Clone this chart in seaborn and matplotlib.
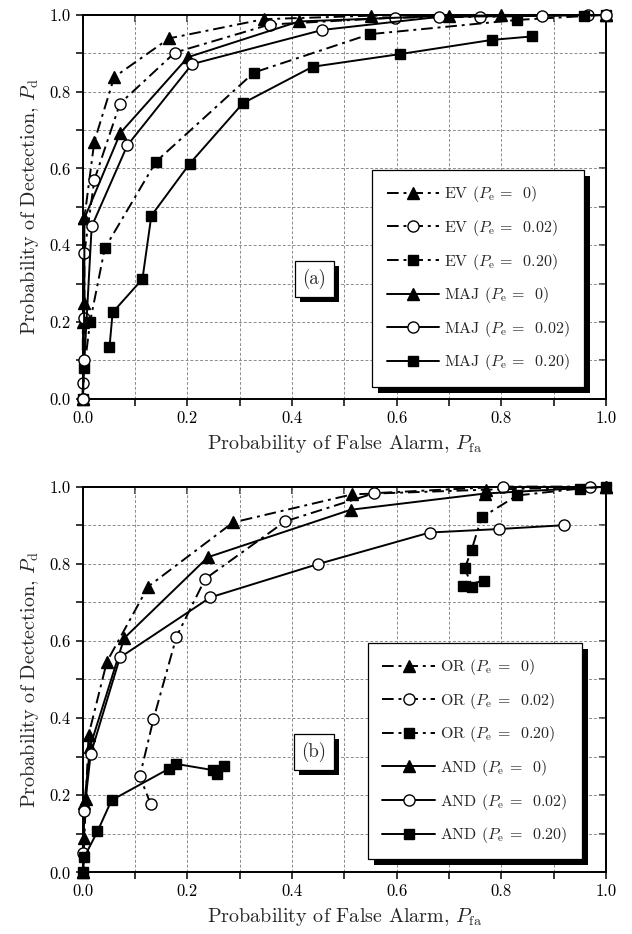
import numpy as np
import matplotlib
matplotlib.use("Agg")
import matplotlib.pyplot as plt
from matplotlib.patches import Rectangle
from matplotlib.ticker import MultipleLocator
import seaborn as sns

# ---- panel (a): EV and MAJ fusion ROC curves ----
ev0_x = [0.0, 0.0, 0.003, 0.022, 0.060, 0.165, 0.346, 0.55, 0.80, 1.0]
ev0_y = [0.0, 0.20, 0.47, 0.670, 0.838, 0.939, 0.989, 0.998, 1.0, 1.0]
ev02_x = [0.0, 0.0, 0.003, 0.003, 0.022, 0.071, 0.176, 0.357, 0.596, 0.76, 0.966]
ev02_y = [0.0, 0.04, 0.21, 0.38, 0.570, 0.769, 0.902, 0.975, 0.993, 0.995, 1.0]
ev20_x = [0.0, 0.003, 0.014, 0.042, 0.140, 0.327, 0.549, 0.830, 0.957, 1.0]
ev20_y = [0.0, 0.08, 0.201, 0.392, 0.618, 0.850, 0.950, 0.987, 0.997, 1.0]
maj0_x = [0.0, 0.003, 0.003, 0.072, 0.201, 0.413, 0.70, 1.0]
maj0_y = [0.0, 0.25, 0.47, 0.693, 0.890, 0.983, 0.998, 1.0]
maj02_x = [0.0, 0.003, 0.017, 0.085, 0.209, 0.458, 0.681, 0.877, 1.0]
maj02_y = [0.0, 0.10, 0.449, 0.660, 0.872, 0.961, 0.995, 0.998, 1.0]
maj20_x = [0.051, 0.057, 0.114, 0.131, 0.204, 0.306, 0.439, 0.606, 0.782, 0.858]
maj20_y = [0.134, 0.225, 0.312, 0.477, 0.612, 0.770, 0.865, 0.898, 0.935, 0.944]

# ---- panel (b): OR and AND fusion ROC curves ----
or0_x = [0.0, 0.003, 0.006, 0.011, 0.046, 0.125, 0.287, 0.515, 0.77, 1.0]
or0_y = [0.0, 0.09, 0.19, 0.356, 0.546, 0.741, 0.907, 0.980, 0.992, 1.0]
or02_x = [0.130, 0.109, 0.135, 0.179, 0.234, 0.387, 0.557, 0.803, 0.97]
or02_y = [0.176, 0.249, 0.397, 0.611, 0.761, 0.910, 0.983, 1.0, 1.0]
or20_x = [0.766, 0.727, 0.744, 0.730, 0.743, 0.762, 0.830, 0.95, 1.0]
or20_y = [0.756, 0.743, 0.741, 0.788, 0.836, 0.920, 0.977, 0.995, 1.0]
and0_x = [0.0, 0.003, 0.014, 0.079, 0.239, 0.512, 0.768, 1.0]
and0_y = [0.0, 0.18, 0.326, 0.607, 0.817, 0.940, 0.982, 1.0]
and02_x = [0.0, 0.003, 0.015, 0.071, 0.244, 0.449, 0.663, 0.795, 0.920]
and02_y = [0.05, 0.16, 0.306, 0.557, 0.713, 0.799, 0.881, 0.890, 0.900]
and20_x = [0.0, 0.003, 0.028, 0.055, 0.165, 0.179, 0.249, 0.256, 0.270]
and20_y = [0.0, 0.04, 0.106, 0.187, 0.269, 0.281, 0.265, 0.256, 0.276]

pe_labels = ["0", "0.02", "0.20"]

sns.set_style("ticks")
plt.rcParams["font.family"] = "serif"
plt.rcParams["font.serif"] = ["cmr10", "DejaVu Serif"]
plt.rcParams["mathtext.fontset"] = "cm"
plt.rcParams["axes.formatter.use_mathtext"] = True

DASHDOT = (0, (6, 2.5, 1.5, 2.5))
markers = ["^", "o", "s"]
mfaces = ["black", "white", "black"]
msizes = [8, 8, 6.5]


def draw_series(ax, x, y, style, k, label):
    sns.lineplot(x=x, y=y, ax=ax, sort=False, estimator=None, color="black",
                 linestyle=style, linewidth=1.4, marker=markers[k],
                 markersize=msizes[k], markerfacecolor=mfaces[k],
                 markeredgecolor="black", markeredgewidth=1.0, label=label)


def style_axes(ax, tag, leg_anchor):
    ax.set_xlim(0, 1)
    ax.set_ylim(0, 1)
    ax.xaxis.set_major_locator(MultipleLocator(0.2))
    ax.yaxis.set_major_locator(MultipleLocator(0.2))
    ax.xaxis.set_minor_locator(MultipleLocator(0.1))
    ax.yaxis.set_minor_locator(MultipleLocator(0.1))
    ax.xaxis.set_major_formatter(plt.FormatStrFormatter("%.1f"))
    ax.yaxis.set_major_formatter(plt.FormatStrFormatter("%.1f"))
    ax.grid(True, which="both", color="#8c8c8c", linestyle=(0, (3, 2)), linewidth=0.7)
    ax.set_axisbelow(True)
    ax.tick_params(which="both", direction="out", length=5, width=1.1,
                   labelsize=12, colors="black", top=False, right=False)
    # inward ticks on top and right
    sx = ax.secondary_xaxis("top")
    sy = ax.secondary_yaxis("right")
    sx.xaxis.set_major_locator(MultipleLocator(0.2))
    sx.xaxis.set_minor_locator(MultipleLocator(0.1))
    sy.yaxis.set_major_locator(MultipleLocator(0.2))
    sy.yaxis.set_minor_locator(MultipleLocator(0.1))
    for sec in (sx, sy):
        sec.tick_params(which="both", direction="in", length=5, width=1.1,
                        labeltop=False, labelright=False, labelbottom=False, labelleft=False)
        for s in sec.spines.values():
            s.set_linewidth(1.4)
    for s in ax.spines.values():
        s.set_linewidth(1.4)
        s.set_color("black")
    ax.set_xlabel(r"Probability of False Alarm, $P_\mathrm{fa}$", fontsize=14.5, labelpad=5)
    ax.set_ylabel(r"Probability of Dectection, $P_\mathrm{d}$", fontsize=14.5, labelpad=6)

    t = ax.text(0.442, 0.312, tag, fontsize=13.5, ha="center", va="center", zorder=9,
                bbox=dict(boxstyle="square,pad=0.4", fc="white", ec="black", lw=0.9))

    leg = ax.legend(loc="upper left", bbox_to_anchor=leg_anchor,
                    fontsize=11.5, frameon=True, fancybox=False,
                    edgecolor="black", framealpha=1, handlelength=3.3,
                    labelspacing=0.85, borderpad=0.9, numpoints=1,
                    borderaxespad=0, handletextpad=0.3)
    leg.get_frame().set_linewidth(0.9)
    leg.set_zorder(12)
    return t, leg


def add_shadow(ax, box, off, z):
    # solid black drop shadow behind a box given in display coords
    inv = ax.transAxes.inverted()
    (x0, y0), (x1, y1) = inv.transform([[box.x0 + off, box.y0 - off], [box.x1 + off, box.y1 - off]])
    ax.add_patch(Rectangle((x0, y0), x1 - x0, y1 - y0, transform=ax.transAxes,
                           fc="black", ec="none", zorder=z, clip_on=False))


fig = plt.figure(figsize=(6.32, 9.34), dpi=100)
ax_a = fig.add_axes([0.131, 0.573, 0.828, 0.411])
ax_b = fig.add_axes([0.131, 0.066, 0.828, 0.413])

series_a = [(ev0_x, ev0_y, DASHDOT, 0, "EV"), (ev02_x, ev02_y, DASHDOT, 1, "EV"),
            (ev20_x, ev20_y, DASHDOT, 2, "EV"), (maj0_x, maj0_y, "-", 0, "MAJ"),
            (maj02_x, maj02_y, "-", 1, "MAJ"), (maj20_x, maj20_y, "-", 2, "MAJ")]
series_b = [(or0_x, or0_y, DASHDOT, 0, "OR"), (or02_x, or02_y, DASHDOT, 1, "OR"),
            (or20_x, or20_y, DASHDOT, 2, "OR"), (and0_x, and0_y, "-", 0, "AND"),
            (and02_x, and02_y, "-", 1, "AND"), (and20_x, and20_y, "-", 2, "AND")]

for ax, series in [(ax_a, series_a), (ax_b, series_b)]:
    for x, y, ls, k, name in series:
        lab = name + r" ($P_\mathrm{e}$ =  " + pe_labels[k] + ")"
        draw_series(ax, x, y, ls, k, lab)
    for ln in ax.lines:
        ln.set_clip_on(False)
        ln.set_zorder(5)

boxes = [style_axes(ax_a, "(a)", (0.553, 0.596)), style_axes(ax_b, "(b)", (0.545, 0.595))]

fig.canvas.draw()
renderer = fig.canvas.get_renderer()
for ax, (t, leg) in zip([ax_a, ax_b], boxes):
    add_shadow(ax, t.get_bbox_patch().get_window_extent(renderer), 5, 8)
    add_shadow(ax, leg.get_frame().get_window_extent(renderer), 6, 11)

fig.savefig("out.png", dpi=100)
